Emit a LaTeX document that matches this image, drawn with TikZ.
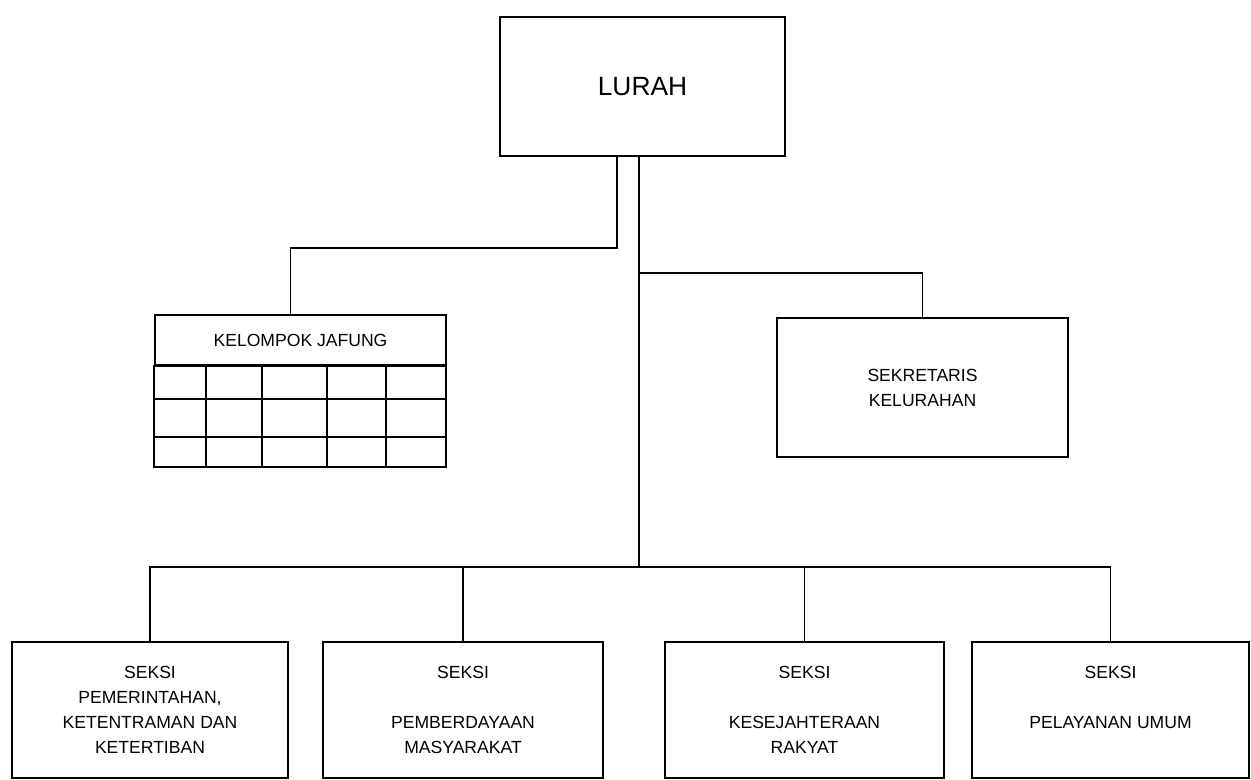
\documentclass[tikz,border=0pt]{standalone}
\usepackage{fontspec}
\setmainfont{Liberation Sans}
\usetikzlibrary{positioning,calc}

\begin{document}
\begin{tikzpicture}[x=0.02cm,y=-0.02cm,
    box/.style={draw,line width=.9pt,align=center,inner sep=0pt,
        font=\fontsize{10}{14.2}\selectfont},
    seksi/.style={box,minimum height=2.72cm},
    link/.style={line width=.9pt}]
            \useasboundingbox (0,0) rectangle (1251,780);

            \node[box,minimum width=5.7cm,minimum height=2.78cm,
                font=\fontsize{15}{18}\selectfont] (lurah) at (642.5,86.5) {LURAH};

            \node[box,minimum width=5.82cm,minimum height=1cm] (jafung) at (300.5,340) {KELOMPOK JAFUNG};
            \draw[link] (jafung.south west) rectangle (446,467);
            \foreach \x in {206,262,327,386}
                \draw[link] (\x,365) -- (\x,467);
            \foreach \y in {399,437}
                \draw[link] (155,\y) -- (446,\y);

            \node[box,minimum width=5.82cm,minimum height=2.78cm] (sekretaris) at (922.5,387.5) {SEKRETARIS\\ KELURAHAN};

            \node[seksi,minimum width=5.52cm] (pemerintahan) at (150,710)
                {SEKSI\\ PEMERINTAHAN,\\ KETENTRAMAN DAN\\ KETERTIBAN};
            \node[seksi,minimum width=5.6cm] (pemberdayaan) at (463,710)
                {SEKSI\\ \mbox{}\\ PEMBERDAYAAN\\ MASYARAKAT};
            \node[seksi,minimum width=5.58cm] (kesejahteraan) at (804.5,710)
                {SEKSI\\ \mbox{}\\ KESEJAHTERAAN\\ RAKYAT};
            \node[seksi,minimum width=5.54cm] (pelayanan) at (1110.5,710)
                {SEKSI\\ \mbox{}\\ PELAYANAN UMUM\\ \mbox{}};

            \coordinate (k1) at (617,248);
            \coordinate (s1) at (639,273);
            \coordinate (bus) at (639,567);

            \begin{scope}[link]
                \draw (lurah.south -| k1) -- (k1) -| ([xshift=-0.2cm]jafung.north);
                \draw (lurah.south -| bus) -- (bus);
                \draw (s1) -| (sekretaris.north);
                \draw (pemerintahan.north) |- (bus) -| (pelayanan.north);
                \draw (pemberdayaan.north) -- (pemberdayaan.north |- bus);
                \draw (kesejahteraan.north) -- (kesejahteraan.north |- bus);
            \end{scope}
        \end{tikzpicture}
\end{document}
